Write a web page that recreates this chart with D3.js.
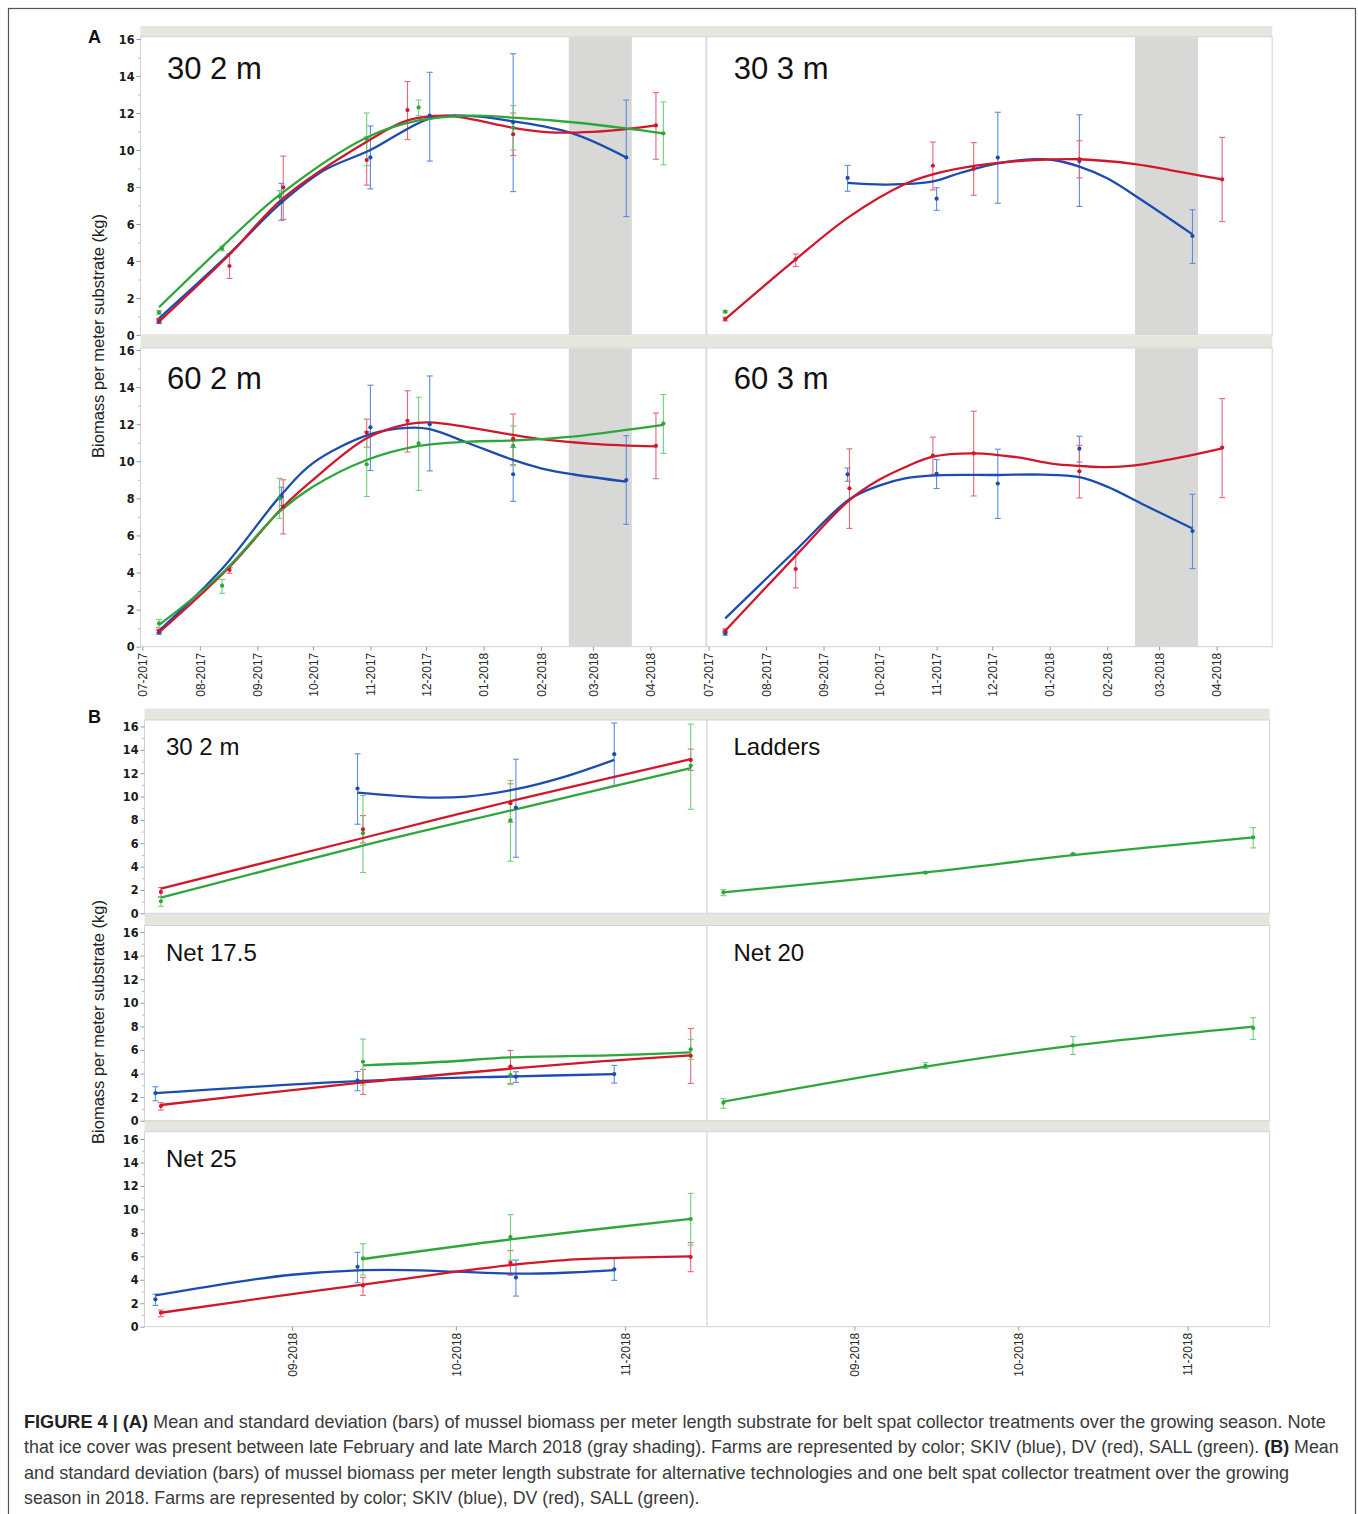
<!DOCTYPE html>
<html>
<head>
<meta charset="utf-8">
<script src="https://cdn.jsdelivr.net/npm/d3@7"></script>
<style>
  body { margin: 0; background: #fff; }
  svg { display: block; }
</style>
</head>
<body>
<svg id="svg" width="1358" height="1514"></svg>
<script>
// farms and colours
const farms = ['SKIV', 'DV', 'SALL']
const lineColour = { SKIV: '#1c4cb0', DV: '#d0182c', SALL: '#2ea63b' }
const barColour = { SKIV: '#5a8ddc', DV: '#e5687a', SALL: '#72cf7c' }
const iceCover = ['2018-02-16', '2018-03-22']

// ---- panel A : [date, mean, mean - sd, mean + sd] ----
const a302Skiv = [['2017-07-10', 0.72, 0.62, 0.82], ['2017-09-14', 7.2, 6.2, 8.2], ['2017-11-01', 9.6, 7.9, 11.3],
  ['2017-12-03', 11.86, 9.4, 14.2], ['2018-01-17', 11.5, 7.75, 15.2], ['2018-03-19', 9.6, 6.4, 12.7]]
const a302Dv = [['2017-07-10', 0.8, 0.7, 0.9], ['2017-08-17', 3.73, 3.06, 4.4], ['2017-09-15', 7.98, 6.25, 9.67],
  ['2017-10-30', 9.46, 8.1, 10.7], ['2017-11-21', 12.16, 10.56, 13.7], ['2018-01-17', 10.85, 9.7, 12.0], ['2018-04-04', 11.33, 9.5, 13.1]]
const a302Sall = [['2017-07-10', 1.22, 1.12, 1.32], ['2017-08-13', 4.67, 4.55, 4.8], ['2017-09-13', 7.48, 7.15, 7.8],
  ['2017-10-30', 10.6, 9.15, 12.0], ['2017-11-27', 12.3, 11.85, 12.7], ['2018-01-17', 11.2, 10.0, 12.4], ['2018-04-08', 10.9, 9.2, 12.6]]
const a302SkivFit = [['2017-07-10', 0.9], ['2017-08-17', 4.4], ['2017-09-14', 7.15], ['2017-10-07', 8.9], ['2017-11-01', 10.0],
  ['2017-12-03', 11.7], ['2017-12-24', 11.85], ['2018-01-17', 11.55], ['2018-02-18', 10.9], ['2018-03-19', 9.6]]
const a302DvFit = [['2017-07-10', 0.72], ['2017-08-17', 4.35], ['2017-09-15', 7.4], ['2017-10-30', 10.45], ['2017-11-21', 11.6],
  ['2017-12-12', 11.85], ['2017-12-24', 11.7], ['2018-01-17', 11.2], ['2018-02-06', 10.95], ['2018-03-01', 10.98], ['2018-03-19', 11.13], ['2018-04-04', 11.33]]
const a302SallFit = [['2017-07-10', 1.5], ['2017-08-13', 4.77], ['2017-09-13', 7.57], ['2017-10-30', 10.68], ['2017-11-27', 11.6],
  ['2017-12-24', 11.85], ['2018-01-17', 11.75], ['2018-02-18', 11.5], ['2018-03-19', 11.17], ['2018-04-08', 10.9]]

const a303Skiv = [['2017-09-14', 8.49, 7.77, 9.17], ['2017-11-01', 7.37, 6.74, 7.96], ['2017-12-04', 9.59, 7.12, 12.04],
  ['2018-01-17', 9.4, 6.95, 11.9], ['2018-03-19', 5.35, 3.87, 6.77]]
const a303Dv = [['2017-07-10', 0.86, 0.76, 0.96], ['2017-08-17', 4.09, 3.7, 4.38], ['2017-10-30', 9.15, 7.84, 10.43],
  ['2017-11-21', 8.98, 7.55, 10.4], ['2018-01-17', 9.51, 8.5, 10.5], ['2018-04-04', 8.41, 6.13, 10.68]]
const a303Sall = [['2017-07-10', 1.26, 1.2, 1.32]]
const a303SkivFit = [['2017-09-14', 8.22], ['2017-10-05', 8.13], ['2017-10-30', 8.3], ['2017-11-14', 8.77], ['2017-12-04', 9.28],
  ['2017-12-24', 9.5], ['2018-01-03', 9.46], ['2018-01-17', 9.1], ['2018-02-01', 8.47], ['2018-02-21', 7.2], ['2018-03-19', 5.44]]
const a303DvFit = [['2017-07-10', 0.86], ['2017-08-17', 4.09], ['2017-09-15', 6.4], ['2017-10-15', 8.16], ['2017-10-30', 8.68],
  ['2017-11-22', 9.15], ['2017-12-24', 9.46], ['2018-01-17', 9.5], ['2018-02-16', 9.24], ['2018-03-13', 8.8], ['2018-04-04', 8.41]]

const a602Skiv = [['2017-07-10', 0.77, 0.67, 0.87], ['2017-09-14', 8.09, 7.6, 8.6], ['2017-11-01', 11.83, 9.5, 14.1],
  ['2017-12-03', 12.0, 9.48, 14.6], ['2018-01-17', 9.3, 7.84, 10.75], ['2018-03-19', 8.99, 6.6, 11.38]]
const a602Dv = [['2017-07-10', 0.85, 0.75, 0.95], ['2017-08-17', 4.14, 3.96, 4.26], ['2017-09-15', 7.55, 6.08, 9.0],
  ['2017-10-30', 11.55, 10.76, 12.27], ['2017-11-21', 12.18, 10.5, 13.8], ['2018-01-17', 11.22, 9.82, 12.55], ['2018-04-04', 10.83, 9.06, 12.6]]
const a602Sall = [['2017-07-10', 1.26, 1.04, 1.47], ['2017-08-13', 3.29, 2.88, 3.63], ['2017-09-13', 8.0, 6.92, 9.08],
  ['2017-10-30', 9.84, 8.1, 11.6], ['2017-11-27', 10.97, 8.43, 13.45], ['2018-01-17', 10.83, 9.75, 11.9], ['2018-04-08', 12.03, 10.43, 13.6]]
const a602SkivFit = [['2017-07-10', 0.86], ['2017-08-13', 4.2], ['2017-09-14', 8.2], ['2017-10-01', 9.9], ['2017-11-01', 11.46],
  ['2017-11-21', 11.8], ['2017-12-03', 11.73], ['2017-12-24', 10.97], ['2018-01-17', 10.07], ['2018-02-01', 9.62], ['2018-02-18', 9.3], ['2018-03-19', 8.9]]
const a602DvFit = [['2017-07-10', 0.77], ['2017-08-17', 4.3], ['2017-09-15', 7.55], ['2017-10-01', 9.0], ['2017-10-30', 11.24],
  ['2017-11-21', 12.0], ['2017-12-03', 12.1], ['2017-12-24', 11.83], ['2018-01-17', 11.42], ['2018-02-01', 11.19], ['2018-03-01', 10.94], ['2018-04-04', 10.8]]
const a602SallFit = [['2017-07-10', 1.17], ['2017-08-13', 3.96], ['2017-09-13', 7.28], ['2017-10-01', 8.63], ['2017-10-30', 10.07],
  ['2017-11-27', 10.83], ['2017-12-24', 11.06], ['2018-01-17', 11.12], ['2018-02-18', 11.33], ['2018-03-19', 11.69], ['2018-04-08', 11.96]]

const a603Skiv = [['2017-07-10', 0.72, 0.62, 0.82], ['2017-09-14', 9.3, 8.92, 9.64], ['2017-11-01', 9.32, 8.53, 10.09],
  ['2017-12-04', 8.8, 6.92, 10.65], ['2018-01-17', 10.68, 9.96, 11.35], ['2018-03-19', 6.24, 4.21, 8.22]]
const a603Dv = [['2017-07-10', 0.86, 0.76, 0.96], ['2017-08-17', 4.19, 3.17, 5.16], ['2017-09-15', 8.54, 6.38, 10.67],
  ['2017-10-30', 10.31, 9.3, 11.3], ['2017-11-21', 10.43, 8.13, 12.7], ['2018-01-17', 9.46, 8.02, 10.86], ['2018-04-04', 10.74, 8.04, 13.38]]
const a603SkivFit = [['2017-07-10', 1.53], ['2017-08-17', 5.2], ['2017-09-15', 7.95], ['2017-10-01', 8.69], ['2017-10-15', 9.08],
  ['2017-11-01', 9.24], ['2017-12-04', 9.26], ['2017-12-28', 9.28], ['2018-01-17', 9.14], ['2018-02-01', 8.63], ['2018-02-21', 7.64], ['2018-03-19', 6.37]]
const a603DvFit = [['2017-07-10', 0.86], ['2017-08-17', 4.9], ['2017-09-15', 7.91], ['2017-10-01', 9.0], ['2017-10-15', 9.68],
  ['2017-10-30', 10.25], ['2017-11-22', 10.43], ['2017-12-14', 10.22], ['2018-01-03', 9.86], ['2018-01-17', 9.75], ['2018-02-01', 9.68],
  ['2018-02-16', 9.78], ['2018-03-13', 10.22], ['2018-04-04', 10.7]]

// ---- panel B ----
const b302Skiv = [['2018-09-13', 10.69, 7.63, 13.66], ['2018-10-12', 9.06, 4.8, 13.2], ['2018-10-30', 13.63, 10.9, 16.3]]
const b302Dv = [['2018-08-08', 1.83, 1.37, 2.2], ['2018-09-14', 7.2, 6.03, 8.37], ['2018-10-11', 9.43, 7.8, 11.09], ['2018-11-13', 13.14, 12.23, 14.06]]
const b302Sall = [['2018-08-08', 1.03, 0.6, 1.43], ['2018-09-14', 6.86, 3.49, 10.09], ['2018-10-11', 7.97, 4.46, 11.37], ['2018-11-13', 12.63, 8.91, 16.2]]
const b302SkivFit = [['2018-09-13', 10.34], ['2018-09-26', 9.91], ['2018-10-03', 10.0], ['2018-10-12', 10.63], ['2018-10-21', 11.71], ['2018-10-30', 13.14]]
const b302DvFit = [['2018-08-08', 2.11], ['2018-09-14', 6.45], ['2018-10-11', 9.6], ['2018-11-13', 13.2]]
const b302SallFit = [['2018-08-08', 1.34], ['2018-09-14', 5.8], ['2018-10-11', 8.8], ['2018-11-13', 12.43]]

const bLadSall = [['2018-08-08', 1.8, 1.51, 2.03], ['2018-09-14', 3.49, 3.4, 3.58], ['2018-10-11', 5.06, 4.98, 5.14], ['2018-11-13', 6.51, 5.6, 7.34]]
const bLadSallFit = [['2018-08-08', 1.8], ['2018-09-14', 3.5], ['2018-10-11', 4.98], ['2018-11-13', 6.51]]

const bN175Skiv = [['2018-08-07', 2.34, 1.69, 2.88], ['2018-09-13', 3.39, 2.54, 4.18], ['2018-10-12', 3.73, 3.25, 4.15], ['2018-10-30', 3.95, 3.19, 4.69]]
const bN175Dv = [['2018-08-08', 1.24, 0.9, 1.53], ['2018-09-14', 3.3, 2.23, 4.35], ['2018-10-11', 4.58, 3.16, 5.96], ['2018-11-13', 5.5, 3.16, 7.82]]
const bN175Sall = [['2018-09-14', 5.0, 3.02, 6.92], ['2018-10-11', 3.87, 3.05, 4.6], ['2018-11-13', 6.05, 5.2, 6.9]]
const bN175SkivFit = [['2018-08-07', 2.34], ['2018-09-13', 3.36], ['2018-10-12', 3.76], ['2018-10-30', 3.95]]
const bN175DvFit = [['2018-08-08', 1.33], ['2018-09-14', 3.25], ['2018-10-11', 4.41], ['2018-10-29', 5.08], ['2018-11-13', 5.54]]
const bN175SallFit = [['2018-09-14', 4.69], ['2018-09-29', 5.0], ['2018-10-11', 5.37], ['2018-10-29', 5.54], ['2018-11-13', 5.79]]

const bN20Sall = [['2018-08-08', 1.53, 1.05, 1.86], ['2018-09-14', 4.66, 4.43, 4.92], ['2018-10-11', 6.38, 5.62, 7.15], ['2018-11-13', 7.85, 6.89, 8.73]]
const bN20SallFit = [['2018-08-08', 1.61], ['2018-09-14', 4.58], ['2018-10-11', 6.36], ['2018-11-13', 7.97]]

const bN25Skiv = [['2018-08-07', 2.33, 1.82, 2.78], ['2018-09-13', 5.11, 3.75, 6.34], ['2018-10-12', 4.2, 2.61, 5.68], ['2018-10-30', 4.89, 3.95, 5.8]]
const bN25Dv = [['2018-08-08', 1.19, 0.85, 1.42], ['2018-09-14', 3.52, 2.67, 4.2], ['2018-10-11', 5.45, 4.38, 6.48], ['2018-11-13', 5.94, 4.69, 7.16]]
const bN25Sall = [['2018-09-14', 5.82, 4.4, 7.07], ['2018-10-11', 7.64, 5.68, 9.55], ['2018-11-13', 9.18, 6.96, 11.36]]
const bN25SkivFit = [['2018-08-07', 2.67], ['2018-08-23', 3.89], ['2018-09-01', 4.43], ['2018-09-13', 4.8], ['2018-09-22', 4.83],
  ['2018-10-01', 4.69], ['2018-10-12', 4.52], ['2018-10-21', 4.6], ['2018-10-30', 4.83]]
const bN25DvFit = [['2018-08-08', 1.19], ['2018-09-01', 2.78], ['2018-09-14', 3.58], ['2018-10-01', 4.69], ['2018-10-11', 5.26],
  ['2018-10-21', 5.68], ['2018-11-01', 5.88], ['2018-11-13', 5.99]]
const bN25SallFit = [['2018-09-14', 5.77], ['2018-10-11', 7.44], ['2018-11-13', 9.2]]

const yTicks = [0, 2, 4, 6, 8, 10, 12, 14, 16]
const yMinor = [1, 3, 5, 7, 9, 11, 13, 15]

const parseDate = d3.timeParse('%Y-%m-%d')
const svg = d3.select('#svg')

// layout
const layoutA = {
  cols: [140.5, 706.7], width: 565.5, domain: ['2017-06-30', '2018-05-01'], ice: true,
  rows: [{ top: 36.7, y16: 39, y0: 335 }, { top: 348, y16: 350, y0: 646.7 }],
  strips: [[26, 36.7], [336, 348]], titleSize: 31, titleX: [26.5, 27], titleY: [79, 389]
}
const layoutB = {
  cols: [144.5, 707], width: 562.6, domain: ['2018-08-05', '2018-11-16'], ice: false,
  rows: [{ top: 720, y16: 726.5, y0: 913.3 }, { top: 925.5, y16: 932, y0: 1120.7 }, { top: 1131.7, y16: 1139, y0: 1326.7 }],
  strips: [[708.5, 720], [914, 925.5], [1120.7, 1131.7]], titleSize: 24, titleX: [21.5, 26.5], titleY: [755, 961, 1166.5]
}

const cellsA = [
  { title: '30 2 m', col: 0, row: 0, series: [[a302Skiv, a302SkivFit, 'SKIV'], [a302Dv, a302DvFit, 'DV'], [a302Sall, a302SallFit, 'SALL']] },
  { title: '30 3 m', col: 1, row: 0, series: [[a303Skiv, a303SkivFit, 'SKIV'], [a303Dv, a303DvFit, 'DV'], [a303Sall, null, 'SALL']] },
  { title: '60 2 m', col: 0, row: 1, series: [[a602Skiv, a602SkivFit, 'SKIV'], [a602Dv, a602DvFit, 'DV'], [a602Sall, a602SallFit, 'SALL']] },
  { title: '60 3 m', col: 1, row: 1, series: [[a603Skiv, a603SkivFit, 'SKIV'], [a603Dv, a603DvFit, 'DV']] }
]
const cellsB = [
  { title: '30 2 m', col: 0, row: 0, series: [[b302Skiv, b302SkivFit, 'SKIV'], [b302Dv, b302DvFit, 'DV'], [b302Sall, b302SallFit, 'SALL']] },
  { title: 'Ladders', col: 1, row: 0, series: [[bLadSall, bLadSallFit, 'SALL']] },
  { title: 'Net 17.5', col: 0, row: 1, series: [[bN175Skiv, bN175SkivFit, 'SKIV'], [bN175Dv, bN175DvFit, 'DV'], [bN175Sall, bN175SallFit, 'SALL']] },
  { title: 'Net 20', col: 1, row: 1, series: [[bN20Sall, bN20SallFit, 'SALL']] },
  { title: 'Net 25', col: 0, row: 2, series: [[bN25Skiv, bN25SkivFit, 'SKIV'], [bN25Dv, bN25DvFit, 'DV'], [bN25Sall, bN25SallFit, 'SALL']] },
  { title: '', col: 1, row: 2, series: [] }
]

// outer border
svg.append('rect').attr('x', 8.5).attr('y', 8.5).attr('width', 1347).attr('height', 1530)
  .attr('fill', 'none').attr('stroke', '#555').attr('stroke-width', 1.2)

function drawSection(layout, cells) {
  const xDomain = layout.domain.map(parseDate)
  const fullRight = layout.cols[1] + layout.width

  layout.strips.forEach(s => {
    svg.append('rect').attr('x', layout.cols[0]).attr('y', s[0])
      .attr('width', fullRight - layout.cols[0]).attr('height', s[1] - s[0])
      .attr('fill', '#e7e6de')
  })

  cells.forEach(cell => {
    const left = layout.cols[cell.col]
    const right = left + layout.width
    const row = layout.rows[cell.row]
    const x = d3.scaleTime().domain(xDomain).range([left, right])
    const y = d3.scaleLinear().domain([0, 16]).range([row.y0, row.y16])
    const g = svg.append('g')

    g.append('rect').attr('x', left).attr('y', row.top).attr('width', right - left).attr('height', row.y0 - row.top)
      .attr('fill', '#fff').attr('stroke', '#d3d3d3').attr('stroke-width', 1)

    if (layout.ice) {
      const i0 = x(parseDate(iceCover[0])), i1 = x(parseDate(iceCover[1]))
      g.append('rect').attr('x', i0).attr('y', row.top + 0.5).attr('width', i1 - i0).attr('height', row.y0 - row.top - 0.5)
        .attr('fill', '#d8d9d6')
    }

    // error bars
    cell.series.forEach(([pts, fit, farm]) => {
      const bars = g.append('g').attr('stroke', barColour[farm]).attr('stroke-width', 1.1)
      bars.selectAll('.v').data(pts).enter().append('line')
        .attr('x1', d => x(parseDate(d[0]))).attr('x2', d => x(parseDate(d[0])))
        .attr('y1', d => y(d[2])).attr('y2', d => y(d[3]))
      bars.selectAll('.lo').data(pts).enter().append('line')
        .attr('x1', d => x(parseDate(d[0])) - 3).attr('x2', d => x(parseDate(d[0])) + 3)
        .attr('y1', d => y(d[2])).attr('y2', d => y(d[2]))
      bars.selectAll('.hi').data(pts).enter().append('line')
        .attr('x1', d => x(parseDate(d[0])) - 3).attr('x2', d => x(parseDate(d[0])) + 3)
        .attr('y1', d => y(d[3])).attr('y2', d => y(d[3]))
    })

    // fitted curves
    const line = d3.line()
      .x(d => x(parseDate(d[0])))
      .y(d => y(d[1]))
      .curve(d3.curveCatmullRom.alpha(0.5))
    cell.series.forEach(([pts, fit, farm]) => {
      if (!fit) return
      g.append('path').datum(fit).attr('d', line)
        .attr('fill', 'none').attr('stroke', lineColour[farm]).attr('stroke-width', 2.3)
        .attr('stroke-linejoin', 'round')
    })

    // means
    cell.series.forEach(([pts, fit, farm]) => {
      g.selectAll(null).data(pts).enter().append('circle')
        .attr('cx', d => x(parseDate(d[0]))).attr('cy', d => y(d[1])).attr('r', 2.1)
        .attr('fill', lineColour[farm])
    })

    if (cell.title) {
      g.append('text').attr('x', left + layout.titleX[cell.col]).attr('y', layout.titleY[cell.row])
        .attr('font-family', 'Liberation Sans, Arial, sans-serif').attr('font-size', layout.titleSize)
        .attr('fill', '#111').text(cell.title)
    }

    // y axis on the left column
    if (cell.col === 0) {
      g.append('g').attr('transform', `translate(${left},0)`)
        .call(d3.axisLeft(y).tickValues(yMinor).tickSize(2.5).tickFormat(''))
        .call(a => { a.select('.domain').remove(); a.selectAll('line').attr('stroke', '#bbb') })
      g.append('g').attr('transform', `translate(${left},0)`)
        .call(d3.axisLeft(y).tickValues(yTicks).tickSize(4).tickPadding(2))
        .call(a => {
          a.select('.domain').remove()
          a.selectAll('line').attr('stroke', '#999')
          a.selectAll('text').attr('font-family', 'DejaVu Sans Condensed, DejaVu Sans, sans-serif')
            .attr('font-weight', 'bold').attr('font-size', 12.5).attr('fill', '#1a1a1a')
        })
    }

    // x axis on the bottom row
    if (cell.row === layout.rows.length - 1) {
      const ticks = x.ticks(d3.timeMonth.every(1)).filter(d => d < xDomain[1])
      g.append('g').attr('transform', `translate(0,${row.y0})`)
        .call(d3.axisBottom(x).tickValues(ticks).tickSize(4).tickFormat(d3.timeFormat('%m-%Y')))
        .call(a => {
          a.select('.domain').remove()
          a.selectAll('line').attr('stroke', '#999')
          a.selectAll('text').attr('transform', 'rotate(-90)').attr('text-anchor', 'end')
            .attr('x', -6).attr('y', 0).attr('dy', '0.35em')
            .attr('font-family', 'Liberation Sans, Arial, sans-serif').attr('font-size', 12).attr('fill', '#2a2a2a')
        })
    }
  })
}

drawSection(layoutA, cellsA)
drawSection(layoutB, cellsB)

// section letters and y titles
svg.append('text').attr('x', 88).attr('y', 43).attr('font-family', 'Liberation Sans, Arial, sans-serif')
  .attr('font-weight', 'bold').attr('font-size', 18).attr('fill', '#111').text('A')
svg.append('text').attr('x', 88).attr('y', 723).attr('font-family', 'Liberation Sans, Arial, sans-serif')
  .attr('font-weight', 'bold').attr('font-size', 18).attr('fill', '#111').text('B')
;[336, 1022].forEach(cy => {
  svg.append('text').attr('transform', `translate(104,${cy}) rotate(-90)`).attr('text-anchor', 'middle')
    .attr('font-family', 'Liberation Sans, Arial, sans-serif').attr('font-size', 16.5).attr('fill', '#222')
    .text('Biomass per meter substrate (kg)')
})

// caption
const captionLines = [
  [['FIGURE 4 | (A)', true], [' Mean and standard deviation (bars) of mussel biomass per meter length substrate for belt spat collector treatments over the growing season. Note', false]],
  [['that ice cover was present between late February and late March 2018 (gray shading). Farms are represented by color; SKIV (blue), DV (red), SALL (green). ', false], ['(B)', true], [' Mean', false]],
  [['and standard deviation (bars) of mussel biomass per meter length substrate for alternative technologies and one belt spat collector treatment over the growing', false]],
  [['season in 2018. Farms are represented by color; SKIV (blue), DV (red), SALL (green).', false]]
]
const captionWidths = [1303, 1316, 1266, 676]
captionLines.forEach((parts, i) => {
  const t = svg.append('text').attr('x', 0).attr('y', 0)
    .attr('font-family', 'Liberation Sans, Arial, sans-serif').attr('font-size', 18)
    .attr('fill', '#3a3a3a')
  parts.forEach(([txt, bold]) => {
    t.append('tspan').attr('font-weight', bold ? 'bold' : 'normal').attr('fill', bold ? '#222' : '#3a3a3a').text(txt)
  })
  const w = t.node().getComputedTextLength()
  const sx = w > 0 ? captionWidths[i] / w : 1
  t.attr('transform', `translate(24,${1428 + i * 25.3}) scale(${sx},1)`)
})
</script>
</body>
</html>
